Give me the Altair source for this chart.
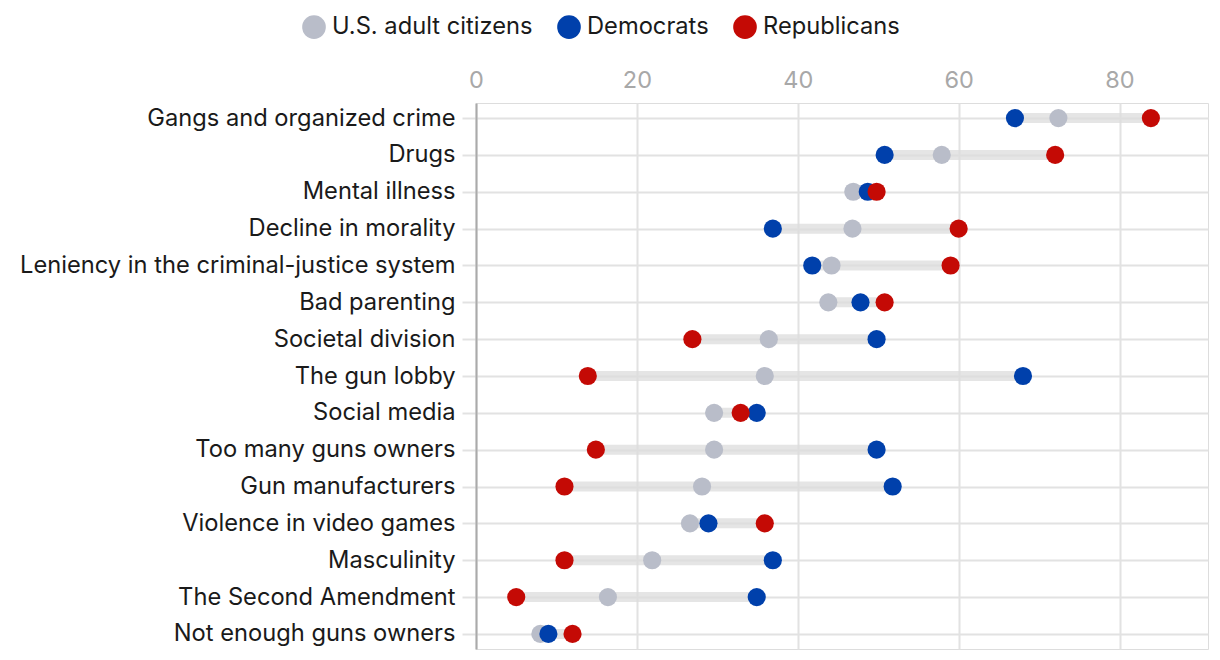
import altair as alt
import pandas as pd

categories = [
    "Gangs and organized crime", "Drugs", "Mental illness", "Decline in morality",
    "Leniency in the criminal-justice system", "Bad parenting", "Societal division",
    "The gun lobby", "Social media", "Too many guns owners", "Gun manufacturers",
    "Violence in video games", "Masculinity", "The Second Amendment",
    "Not enough guns owners",
]
us_adults = [72.4, 57.9, 46.9, 46.8, 44.2, 43.8, 36.4, 35.9, 29.6, 29.6, 28.1, 26.6, 21.9, 16.4, 8.0]
democrats = [67.0, 50.8, 48.7, 36.9, 41.8, 47.8, 49.8, 68.0, 34.9, 49.8, 51.8, 28.9, 36.9, 34.9, 9.0]
republicans = [83.9, 72.0, 49.8, 60.0, 59.0, 50.8, 26.9, 13.9, 32.9, 14.9, 11.0, 35.9, 11.0, 5.0, 12.0]

groups = ["U.S. adult citizens", "Democrats", "Republicans"]
colors = ["#b9bdc9", "#0040ab", "#c40a05"]

rows = []
for gi, (g, vals) in enumerate(zip(groups, [us_adults, democrats, republicans])):
    for c, v in zip(categories, vals):
        rows.append({"category": c, "group": g, "value": v, "gorder": gi})
df = pd.DataFrame(rows)

FONT = "Inter"

y_enc = alt.Y("category:N", sort=categories, title=None,
              scale=alt.Scale(type="point", padding=0.41),
              axis=alt.Axis(labelFontSize=23.7, labelColor="#1a1a1a", labelFont=FONT,
                            labelLimit=0,
                            tickSize=14, tickColor="#e2e2e2", tickWidth=2,
                            labelPadding=7, domainColor="#aaaaaa", domainWidth=2,
                            grid=True, gridColor="#e2e2e2", gridWidth=2))

x_scale = alt.Scale(domain=[0, 91], nice=False, zero=True)

band = alt.Chart(df).mark_rule(strokeWidth=10, color="#dcdcdc", opacity=0.75).encode(
    y=y_enc,
    x=alt.X("min(value):Q", scale=x_scale, title=None,
            axis=alt.Axis(orient="top", values=[0, 20, 40, 60, 80], ticks=False, domain=False,
                          labelFontSize=23.5, labelColor="#a8a8a8", labelFont=FONT,
                          labelFlush=False,
                          labelPadding=11, grid=True, gridColor="#e2e2e2", gridWidth=2)),
    x2="max(value):Q",
)

dots = alt.Chart(df).mark_circle(size=330, opacity=1).encode(
    y=alt.Y("category:N", sort=categories),
    x=alt.X("value:Q", scale=x_scale),
    color=alt.Color("group:N", scale=alt.Scale(domain=groups, range=colors),
                    legend=alt.Legend(title=None, orient="none", direction="horizontal",
                                      legendX=-174, legendY=-88,
                                      symbolType="circle", symbolSize=560,
                                      symbolStrokeWidth=0, labelFontSize=23.7,
                                      labelFont=FONT, labelColor="#1a1a1a",
                                      labelLimit=0,
                                      labelOffset=6, columnPadding=24)),
    order=alt.Order("gorder:Q"),
)

chart = (band + dots).properties(
    width=732, height=546,
    autosize=alt.AutoSizeParams(type="none"),
    padding={"left": 468, "top": 95, "right": 4, "bottom": 3},
).configure_view(stroke=None).configure(font=FONT)

chart.save("out.html", embed_options={"renderer": "svg", "actions": False})
